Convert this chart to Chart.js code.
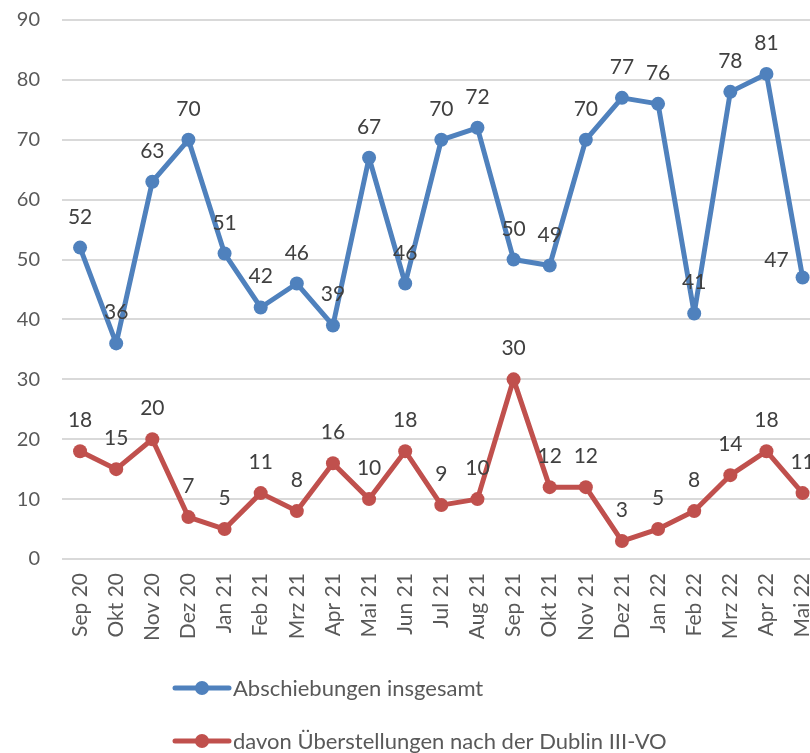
<!DOCTYPE html>
<html lang="de">
<head>
<meta charset="UTF-8">
<title>Abschiebungen</title>
<script src="https://cdn.jsdelivr.net/npm/chart.js@4.4.4/dist/chart.umd.min.js"></script>
<style>
  html, body { margin: 0; padding: 0; background: #fff; overflow: hidden; }
  #wrap { position: relative; width: 842px; height: 753px; }
</style>
</head>
<body>
<div id="wrap"><canvas id="chart"></canvas></div>
<script>
const months = ['Sep 20','Okt 20','Nov 20','Dez 20','Jan 21','Feb 21','Mrz 21','Apr 21','Mai 21','Jun 21','Jul 21',
  'Aug 21','Sep 21','Okt 21','Nov 21','Dez 21','Jan 22','Feb 22','Mrz 22','Apr 22','Mai 22'];
const totalDeportations = [52,36,63,70,51,42,46,39,67,46,70,72,50,49,70,77,76,41,78,81,47];
const dublinTransfers = [18,15,20,7,5,11,8,16,10,18,9,10,30,12,12,3,5,8,14,18,11];
const yTicks = [0,10,20,30,40,50,60,70,80,90];

const FONT = 'Lato, "Open Sans", sans-serif';
const BLUE = '#4f81bd';
const RED = '#c0504d';

// value labels above the points
const valueLabels = {
  id: 'valueLabels',
  afterDatasetsDraw(chart) {
    const ctx = chart.ctx;
    ctx.save();
    ctx.font = '21px ' + FONT;
    ctx.fillStyle = '#404040';
    chart.data.datasets.forEach((ds, i) => {
      const meta = chart.getDatasetMeta(i);
      meta.data.forEach((pt, j) => {
        let x = pt.x, y = pt.y - 24;
        ctx.textAlign = 'center';
        if (i === 0 && j === meta.data.length - 1) {
          ctx.textAlign = 'right';
          x = pt.x - 14; y = pt.y - 11;
        }
        ctx.fillText(ds.data[j], x, y);
      });
    });
    ctx.restore();
  }
};

// legend drawn left aligned, one entry per row
const stackedLegend = {
  id: 'stackedLegend',
  afterDraw(chart) {
    const ctx = chart.ctx;
    ctx.save();
    ctx.font = '22px ' + FONT;
    ctx.textBaseline = 'middle';
    chart.data.datasets.forEach((ds, i) => {
      const y = 688 + i * 53;
      ctx.strokeStyle = ds.borderColor;
      ctx.lineWidth = 5;
      ctx.lineCap = 'round';
      ctx.beginPath();
      ctx.moveTo(175, y);
      ctx.lineTo(229, y);
      ctx.stroke();
      ctx.fillStyle = ds.borderColor;
      ctx.beginPath();
      ctx.arc(202, y, 7, 0, Math.PI * 2);
      ctx.fill();
      ctx.fillStyle = '#595959';
      ctx.textAlign = 'left';
      ctx.fillText(ds.label, 233, y + 1);
    });
    ctx.restore();
  }
};

new Chart(document.getElementById('chart'), {
  type: 'line',
  data: {
    labels: months,
    datasets: [
      {
        label: 'Abschiebungen insgesamt',
        data: totalDeportations,
        borderColor: BLUE,
        backgroundColor: BLUE,
        borderWidth: 5,
        borderJoinStyle: 'round',
        pointRadius: 7,
        pointHoverRadius: 7,
        pointBackgroundColor: BLUE,
        pointBorderWidth: 0
      },
      {
        label: 'davon Überstellungen nach der Dublin III-VO',
        data: dublinTransfers,
        borderColor: RED,
        backgroundColor: RED,
        borderWidth: 5,
        borderJoinStyle: 'round',
        pointRadius: 7,
        pointHoverRadius: 7,
        pointBackgroundColor: RED,
        pointBorderWidth: 0
      }
    ]
  },
  options: {
    responsive: true,
    maintainAspectRatio: false,
    animation: false,
    events: [],
    layout: { padding: { top: 20, right: 9, bottom: 104, left: 0 } },
    scales: {
      x: {
        offset: true,
        grid: { display: false, drawTicks: false },
        border: { display: false },
        ticks: {
          minRotation: 90, maxRotation: 90, autoSkip: false, padding: 14,
          color: '#595959', font: { family: FONT, size: 21 }
        },
        afterFit(scale) { scale.height = 90; }
      },
      y: {
        min: 0, max: 90,
        afterBuildTicks(scale) { scale.ticks = yTicks.map(v => ({ value: v })); },
        grid: { color: '#d9d9d9', lineWidth: 2, drawTicks: false },
        border: { display: false },
        ticks: { padding: 22, color: '#595959', font: { family: FONT, size: 20 } },
        afterFit(scale) {
          scale.width = 62;
          scale.paddingTop = 0;
          scale.paddingBottom = 0;
        }
      }
    },
    plugins: {
      legend: { display: false },
      tooltip: { enabled: false }
    }
  },
  plugins: [valueLabels, stackedLegend]
});
</script>
</body>
</html>
